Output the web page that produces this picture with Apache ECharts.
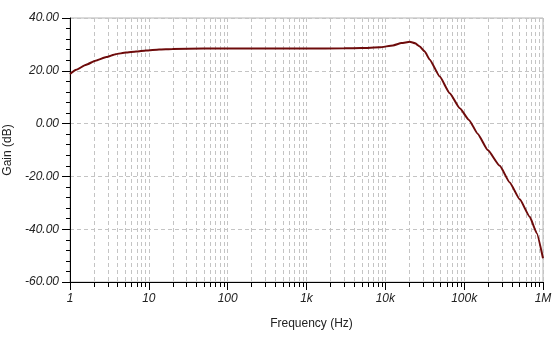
<!DOCTYPE html>
<html>
<head>
<meta charset="utf-8">
<script src="https://cdn.jsdelivr.net/npm/echarts@6/dist/echarts.min.js"></script>
<style>
html,body{margin:0;padding:0;background:#fff;}
#chart{width:554px;height:340px;}
</style>
</head>
<body>
<div id="chart"></div>
<script>
var frequencies = [1, 1.2, 1.6, 2.1, 2.9, 3.8, 5.1, 6.9, 9.2, 13.5, 20, 50, 100, 1000, 3000, 5000, 8500, 12500, 16000, 20400, 24000, 27400, 31600, 36600, 49000, 65600, 88000, 115000, 149000, 199000, 283000, 378000, 507000, 679000, 833000, 1000000];
var gainDb = [18.8, 20.4, 22.3, 23.8, 25.2, 26.3, 26.9, 27.3, 27.7, 28.1, 28.3, 28.4, 28.4, 28.4, 28.5, 28.6, 28.9, 29.6, 30.5, 31.0, 30.4, 29.2, 27.3, 24.2, 17.8, 11.5, 5.8, 1.4, -3.9, -10, -16, -22.3, -28.7, -35.3, -41.5, -51];
var xTickValues = [1, 10, 100, 1000, 10000, 100000, 1000000];
var xTickLabels = ['1', '10', '100', '1k', '10k', '100k', '1M'];
var minorFreqs = [2,3,4,5,6,7,8,9, 20,30,40,50,60,70,80,90, 200,300,400,500,600,700,800,900, 2000,3000,4000,5000,6000,7000,8000,9000, 20000,30000,40000,50000,60000,70000,80000,90000, 200000,300000,400000,500000,600000,700000,800000,900000];
var yMin = -60, yMax = 40, yStep = 20;

var chart = echarts.init(document.getElementById('chart'), null, {renderer: 'canvas'});
var FONT = '"Liberation Sans", Arial, sans-serif';
var gridColor = '#c4c4c4';

var series = [
  {
    type: 'custom',
    silent: true,
    clip: false,
    z: 1,
    data: minorFreqs.map(function (f) { return [f, yMin]; }),
    encode: {x: 0, y: 1},
    renderItem: function (params, api) {
      var f = api.value(0);
      var pb = api.coord([f, yMin]);
      var pt = api.coord([f, yMax]);
      var x = Math.round(pb[0]) + 0.5;
      return {
        type: 'group',
        children: [
          {type: 'line', shape: {x1: x, y1: pt[1], x2: x, y2: pb[1]},
           style: {stroke: gridColor, lineWidth: 1, lineDash: [4, 3]}},
          {type: 'line', shape: {x1: x, y1: pb[1], x2: x, y2: pb[1] + 5},
           style: {stroke: '#000', lineWidth: 1}}
        ]
      };
    }
  },
  {
    type: 'line',
    z: 5,
    data: frequencies.map(function (f, i) { return [f, gainDb[i]]; }),
    showSymbol: false,
    smooth: 0.15,
    smoothMonotone: 'x',
    lineStyle: {color: '#6e0b0b', width: 2},
    itemStyle: {color: '#6e0b0b'}
  }
];

chart.setOption({
  animation: false,
  backgroundColor: '#fff',
  grid: {left: 70, right: 11, top: 18, bottom: 58, containLabel: false, outerBoundsMode: 'none',
         show: true, borderColor: '#b4b4b4', borderWidth: 1},
  xAxis: {
    type: 'log', logBase: 10, min: 1, max: 1000000,
    name: 'Frequency (Hz)', nameLocation: 'middle', nameGap: 36,
    nameTextStyle: {fontFamily: FONT, fontSize: 12, color: '#222', padding: [0, 0, 0, 10]},
    axisLine: {show: true, onZero: false, lineStyle: {color: '#000', width: 1}},
    axisTick: {show: true, length: 8, inside: false, lineStyle: {color: '#000'}},
    axisLabel: {
      fontFamily: FONT, fontSize: 12, fontStyle: 'italic', color: '#222', margin: 11,
      formatter: function (v) {
        var i = xTickValues.indexOf(Math.round(v));
        return i >= 0 ? xTickLabels[i] : '';
      }
    },
    splitLine: {show: true, lineStyle: {color: gridColor, type: [4, 3], width: 1}},
    minorTick: {show: false}
  },
  yAxis: {
    type: 'value', min: yMin, max: yMax, interval: yStep,
    name: 'Gain (dB)', nameLocation: 'middle', nameGap: 56,
    nameTextStyle: {fontFamily: FONT, fontSize: 12, color: '#222'},
    axisLine: {show: true, onZero: false, lineStyle: {color: '#000', width: 1}},
    axisTick: {show: true, length: 8, lineStyle: {color: '#000'}},
    minorTick: {show: true, splitNumber: 5, length: 4, lineStyle: {color: '#000'}},
    axisLabel: {
      fontFamily: FONT, fontSize: 12, fontStyle: 'italic', color: '#222', margin: 11,
      formatter: function (v) { return v.toFixed(2); }
    },
    splitLine: {show: true, lineStyle: {color: gridColor, type: [4, 3], width: 1}}
  },
  series: series
});
</script>
</body>
</html>
